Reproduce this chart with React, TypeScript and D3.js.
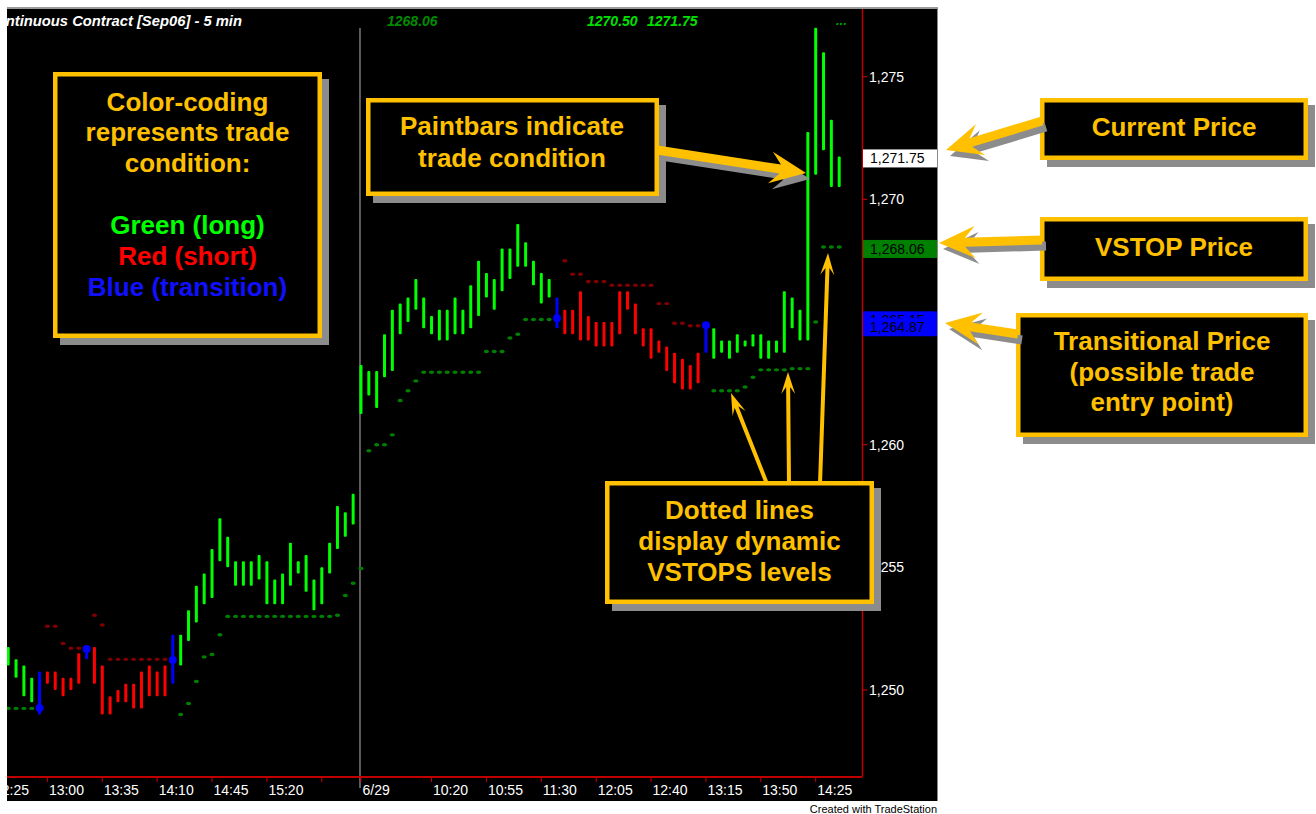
import React from "react";
import * as d3 from "d3";

// ---------- data ----------
const barHigh = [
  1251.75, 1251.25, 1251.0, 1250.5, 1250.75, 1250.75, 1250.75, 1250.5, 1250.5, 1251.5,
  1251.75, 1251.75, 1251.0, 1249.75, 1250.0, 1250.25, 1250.25, 1250.75, 1251.0, 1250.75,
  1251.0, 1252.25, 1252.25, 1253.25, 1254.25, 1254.75, 1255.75, 1257.0, 1256.25, 1255.25,
  1255.25, 1255.25, 1255.5, 1255.25, 1254.5, 1254.75, 1256.0, 1255.25, 1255.5, 1254.5,
  1255.0, 1256.0, 1257.5, 1257.25, 1258.0, 1263.25, 1263.0, 1263.0, 1264.5, 1265.5,
  1265.75, 1266.0, 1266.75, 1266.0, 1265.25, 1265.5, 1265.5, 1266.0, 1265.5, 1266.5,
  1267.5, 1267.0, 1266.75, 1268.0, 1268.0, 1269.0, 1268.25, 1267.5, 1267.0, 1266.75,
  1266.0, 1265.5, 1265.5, 1266.25, 1265.25, 1265.0, 1265.0, 1265.0, 1266.25, 1266.25,
  1265.75, 1264.75, 1264.75, 1264.25, 1264.0, 1263.75, 1263.5, 1263.25, 1263.75, 1265.0,
  1264.75, 1264.25, 1264.25, 1264.5, 1264.25, 1264.5, 1264.5, 1264.25, 1264.25, 1266.25,
  1266.0, 1265.5, 1272.75, 1277.0, 1276.0, 1273.25, 1271.75,
];
const barLow = [
  1251.0, 1250.5, 1249.75, 1249.5, 1249.0, 1250.25, 1250.0, 1249.75, 1250.0, 1250.25,
  1251.25, 1250.25, 1249.0, 1249.0, 1249.5, 1249.5, 1249.25, 1249.25, 1249.75, 1249.75,
  1249.75, 1250.25, 1251.0, 1252.0, 1252.75, 1253.5, 1253.75, 1255.25, 1255.0, 1254.25,
  1254.25, 1254.25, 1254.5, 1253.5, 1253.5, 1253.5, 1254.25, 1254.75, 1254.0, 1253.25,
  1253.5, 1254.75, 1255.75, 1256.25, 1256.75, 1261.25, 1262.0, 1261.5, 1262.75, 1263.0,
  1264.5, 1265.0, 1265.5, 1264.75, 1264.5, 1264.25, 1264.25, 1264.5, 1264.5, 1264.75,
  1265.25, 1266.0, 1265.5, 1266.25, 1266.75, 1267.25, 1267.25, 1266.5, 1265.75, 1266.0,
  1264.75, 1264.5, 1264.5, 1264.25, 1264.25, 1264.0, 1264.0, 1264.0, 1264.5, 1265.5,
  1264.5, 1264.0, 1263.5, 1263.75, 1263.0, 1262.5, 1262.25, 1262.25, 1262.5, 1263.75,
  1263.5, 1263.75, 1263.5, 1263.75, 1264.0, 1264.0, 1263.5, 1263.5, 1263.75, 1263.75,
  1264.75, 1264.25, 1264.25, 1271.0, 1272.0, 1270.5, 1270.5,
];
// G = long (green), R = short (red), B = transition (blue)
const barState = [
  "GGGGBRRRRR", "BRRRRRRRRR", "RBGGGGGGGG", "GGGGGGGGGG", "GGGGGGGGGG",
  "GGGGGGGGGG", "GGGGGGGGGG", "BRRRRRRRRR", "RRRRRRRRRB", "GGGGGGGGGG", "GGGGGGG",
].join("").split("");
const vstop = [
  1249.25, 1249.25, 1249.25, 1249.25, 1249.27, 1252.6, 1252.6, 1251.9, 1251.7, 1251.7,
  1251.67, 1253.05, 1252.65, 1251.25, 1251.25, 1251.25, 1251.25, 1251.25, 1251.25, 1251.25,
  1251.25, 1251.22, 1249.0, 1249.45, 1250.35, 1251.35, 1251.45, 1252.25, 1253.0, 1253.0,
  1253.0, 1253.0, 1253.0, 1253.0, 1253.0, 1253.0, 1253.0, 1253.0, 1253.0, 1253.0,
  1253.0, 1253.0, 1253.05, 1253.85, 1254.35, 1254.95, 1259.75, 1260.0, 1260.0, 1260.4,
  1261.8, 1262.2, 1262.6, 1262.95, 1262.95, 1262.95, 1262.95, 1262.95, 1262.95, 1262.95,
  1262.95, 1263.8, 1263.8, 1263.8, 1264.35, 1264.5, 1265.1, 1265.1, 1265.1, 1265.1,
  1265.15, 1267.5, 1266.95, 1266.95, 1266.65, 1266.65, 1266.65, 1266.5, 1266.5, 1266.5,
  1266.5, 1266.5, 1266.5, 1265.75, 1265.75, 1264.95, 1264.95, 1264.85, 1264.85, 1264.87,
  1262.2, 1262.2, 1262.2, 1262.2, 1262.35, 1262.75, 1263.05, 1263.05, 1263.05, 1263.05,
  1263.1, 1263.1, 1263.1, 1265.0, 1268.06, 1268.06, 1268.06,
];
const timeTickBars = [-2, 5, 12, 19, 26, 33, 40, 45, 54, 61, 68, 75, 82, 89, 96, 103];
const timeTickLabels = ["12:25", "13:00", "13:35", "14:10", "14:45", "15:20", "", "6/29",
  "10:20", "10:55", "11:30", "12:05", "12:40", "13:15", "13:50", "14:25"];
const priceTicks = [1250, 1255, 1260, 1265, 1270, 1275];
const priceLabelValues = [1271.75, 1268.06, 1265.15, 1264.87];
const priceLabelColors = ["#ffffff", "#008000", "#0000ff", "#0000ff"];
const sessionBreakBar = 45;

// ---------- styling ----------
const FONT = "'Liberation Sans', Arial, sans-serif";
const YEL = "#FFC000";
const SHADOW = "#8c8c8c";
const stateColor: Record<string, string> = { G: "#00ff00", R: "#ff0000", B: "#0000ff" };
const dotColor: Record<string, string> = { G: "#008000", R: "#800000", B: "#0000ff" };

function arrowPath(x1: number, y1: number, x2: number, y2: number, w: number, hw: number, hl: number, notch: number) {
  const dx = x2 - x1, dy = y2 - y1, L = Math.hypot(dx, dy);
  const ux = dx / L, uy = dy / L, nx = -uy, ny = ux;
  const bx = x2 - ux * notch, by = y2 - uy * notch;
  const hx = x2 - ux * hl, hy = y2 - uy * hl;
  const pts: [number, number][] = [
    [x1 + nx * w / 2, y1 + ny * w / 2],
    [bx + nx * w / 2, by + ny * w / 2],
    [hx + nx * hw / 2, hy + ny * hw / 2],
    [x2, y2],
    [hx - nx * hw / 2, hy - ny * hw / 2],
    [bx - nx * w / 2, by - ny * w / 2],
    [x1 - nx * w / 2, y1 - ny * w / 2],
  ];
  return (d3.line()(pts) || "") + "Z";
}

type Box = { x: number; y: number; w: number; h: number; cx: number; lines: { t: string; y: number; c?: string }[] };
const boxes: Box[] = [
  { x: 53, y: 72, w: 269, h: 266, cx: 187.5, lines: [
    { t: "Color-coding", y: 111 }, { t: "represents trade", y: 141 }, { t: "condition:", y: 172 },
    { t: "Green (long)", y: 234, c: "#00ff00" }, { t: "Red (short)", y: 265, c: "#ff0000" },
    { t: "Blue (transition)", y: 296, c: "#1010ff" } ] },
  { x: 366, y: 98, w: 293, h: 98, cx: 512, lines: [{ t: "Paintbars indicate", y: 135 }, { t: "trade condition", y: 167 }] },
  { x: 1040, y: 98, w: 268, h: 62, cx: 1174, lines: [{ t: "Current Price", y: 136 }] },
  { x: 1040, y: 217, w: 268, h: 64, cx: 1174, lines: [{ t: "VSTOP Price", y: 256 }] },
  { x: 1016, y: 313, w: 292, h: 124, cx: 1162, lines: [
    { t: "Transitional Price", y: 350 }, { t: "(possible trade", y: 381 }, { t: "entry point)", y: 411 } ] },
  { x: 605, y: 481, w: 269, h: 123, cx: 739.5, lines: [
    { t: "Dotted lines", y: 519 }, { t: "display dynamic", y: 550 }, { t: "VSTOPS levels", y: 581 } ] },
];
const bigArrows = [
  [657, 150, 806, 173],
  [1042, 121, 946, 150],
  [1042, 240, 939, 243],
  [1018, 334, 945, 323],
];
const smallArrows = [
  [767, 484, 731, 393],
  [789, 484, 788, 372],
  [820, 484, 828, 253],
];

export default function App() {
  const x = d3.scaleLinear().domain([0, 106]).range([8.2, 839.2]);
  const y = d3.scaleLinear().domain([1250, 1275]).range([690, 76.7]);
  const fmtTick = d3.format(",");
  const fmtPrice = d3.format(",.2f");
  const n = barHigh.length;
  const idx = d3.range(n);

  return (
    <svg width={1316} height={814} style={{ position: "absolute", left: 0, top: 0, display: "block", background: "#fff" }}
      fontFamily={FONT}>
      <defs>
        <clipPath id="plot"><rect x={7} y={9} width={855} height={767} /></clipPath>
        <clipPath id="head"><rect x={7} y={9} width={855} height={22} /></clipPath>
        <clipPath id="taxis"><rect x={7} y={777} width={855} height={24} /></clipPath>
      </defs>
      <rect x={0} y={0} width={1316} height={814} fill="#fff" />
      <rect x={7} y={8} width={931} height={793} fill="#000" />
      <line x1={7} x2={938} y1={8} y2={8} stroke="#9a9a9a" strokeWidth={2} />
      <line x1={937.5} x2={937.5} y1={8} y2={801} stroke="#8a8a8a" strokeWidth={1} />

      {/* header */}
      <g clipPath="url(#head)" fontWeight="bold" fontStyle="italic">
        <text x={-14} y={26} fill="#fff" fontSize={15} textLength={256} lengthAdjust="spacingAndGlyphs">Continuous Contract [Sep06] - 5 min</text>
        <text x={387} y={26} fill="#008c00" fontSize={14}>1268.06</text>
        <text x={587} y={26} fill="#00e000" fontSize={14}>1270.50</text>
        <text x={647} y={26} fill="#00e000" fontSize={14}>1271.75</text>
        <text x={836} y={25} fill="#00a000" fontSize={13}>...</text>
      </g>

      {/* session separator */}
      <line x1={x(sessionBreakBar) - 1} x2={x(sessionBreakBar) - 1} y1={28} y2={788} stroke="#7a7a7a" strokeWidth={1.5} />

      {/* bars and VSTOP dots */}
      <g clipPath="url(#plot)">
        {idx.map((i) => (
          <ellipse key={"d" + i} cx={x(i)} cy={y(vstop[i])} rx={2.6} ry={1.7}
            fill={dotColor[barState[i]]} style={{ display: barState[i] === "B" ? "none" : undefined }} />
        ))}
        {idx.map((i) => (
          <rect key={"b" + i} x={x(i) - 1.5} y={y(barHigh[i])} width={3}
            height={y(barLow[i]) - y(barHigh[i])} rx={1} fill={stateColor[barState[i]]} />
        ))}
        {idx.filter((i) => barState[i] === "B").map((i) => (
          <circle key={"c" + i} cx={x(i)} cy={y(vstop[i])} r={4} fill="#0000ff" />
        ))}
      </g>

      {/* time axis */}
      <line x1={7} x2={862} y1={777} y2={777} stroke="#c00000" strokeWidth={2} />
      {timeTickBars.map((b, k) => (
        <line key={"tt" + k} x1={x(b)} x2={x(b)} y1={777} y2={782} stroke="#c00000" strokeWidth={1} />
      ))}
      <g clipPath="url(#taxis)">
        {timeTickBars.map((b, k) => (
          <text key={"tl" + k} x={x(b) + 1.5} y={795} fill="#fff" fontSize={14}>{timeTickLabels[k]}</text>
        ))}
      </g>

      {/* price axis */}
      <line x1={862.5} x2={862.5} y1={9} y2={777} stroke="#c00000" strokeWidth={1.5} />
      {priceTicks.map((p) => (
        <g key={"p" + p}>
          <line x1={862} x2={867} y1={y(p)} y2={y(p)} stroke="#c00000" strokeWidth={1.2} />
          <text x={869} y={y(p) + 5} fill="#fff" fontSize={14}>{fmtTick(p)}</text>
        </g>
      ))}
      {priceLabelValues.map((v, k) => (
        <g key={"pl" + k}>
          <rect x={863} y={y(v) - 7} width={74} height={18} fill={priceLabelColors[k]} />
          <text x={870} y={y(v) + 7} fill="#000" fontSize={14}>{fmtPrice(v)}</text>
        </g>
      ))}

      <text x={937} y={813} textAnchor="end" fill="#000" fontSize={11}>Created with TradeStation</text>

      {/* annotation boxes */}
      {boxes.map((b, k) => (
        <g key={"bx" + k}>
          <rect x={b.x + 7} y={b.y + 7} width={b.w} height={b.h} fill={SHADOW} />
          <rect x={b.x + 2.25} y={b.y + 2.25} width={b.w - 4.5} height={b.h - 4.5} fill="#000" stroke={YEL} strokeWidth={4.5} />
          {b.lines.map((l, j) => (
            <text key={j} x={b.cx} y={l.y} textAnchor="middle" fill={l.c || YEL} fontSize={26} fontWeight="bold">{l.t}</text>
          ))}
        </g>
      ))}

      {/* arrows */}
      {bigArrows.map((a, k) => (
        <g key={"ba" + k}>
          <path d={arrowPath(a[0] + 4, a[1] + 6, a[2] + 4, a[3] + 6, 9, 32, 36, 26)} fill={SHADOW} />
          <path d={arrowPath(a[0], a[1], a[2], a[3], 9, 32, 36, 26)} fill={YEL} />
        </g>
      ))}
      {smallArrows.map((a, k) => (
        <path key={"sa" + k} d={arrowPath(a[0], a[1], a[2], a[3], 4, 14, 22, 15)} fill={YEL} />
      ))}
    </svg>
  );
}
